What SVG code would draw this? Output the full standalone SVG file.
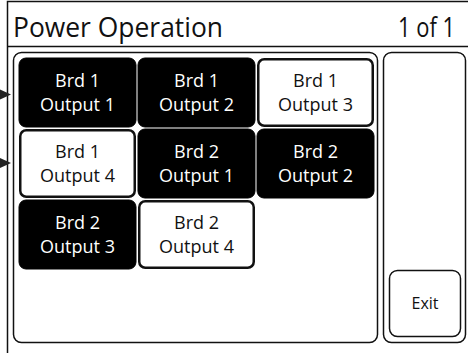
<svg xmlns="http://www.w3.org/2000/svg" width="468" height="353" viewBox="0 0 468 353">
  <style>
    .frame { fill: none; stroke: #111; stroke-width: 1.5; }
    .on rect { fill: #000; stroke: #000; stroke-width: 1; }
    .off rect { fill: #fff; stroke: #111; stroke-width: 2.5; }
    .btn text { font-family: "Open Sans", "Liberation Sans", sans-serif; font-size: 18px; text-anchor: middle; }
    .on text { fill: #fff; }
    .off text { fill: #111; }
    .title { font-family: "Open Sans", "Liberation Sans", sans-serif; font-size: 27px; fill: #111; }
    .pointer { fill: #222; }
  </style>

  <rect width="468" height="353" fill="#fff"/>

  <!-- screen frame and header -->
  <g id="frame">
    <path class="frame" d="M7.5,353 V1.5 H468"/>
    <line class="frame" x1="7.5" y1="46.5" x2="468" y2="46.5"/>
    <text class="title" x="13" y="36.5" textLength="210" lengthAdjust="spacingAndGlyphs">Power Operation</text>
    <text class="title" x="398" y="36.5" textLength="57" lengthAdjust="spacingAndGlyphs">1 of 1</text>
  </g>

  <!-- panels -->
  <g id="grid-panel">
    <rect class="frame" x="13.5" y="52.5" width="364" height="290" rx="8"/>
  </g>
  <g id="side-panel">
    <rect class="frame" x="383.5" y="52.5" width="82" height="290" rx="8"/>
  </g>

  <!-- selection pointers -->
  <g id="pointers">
    <polygon class="pointer" points="0,89.5 11,94.5 0,99.5"/>
    <polygon class="pointer" points="0,158 11,163 0,168"/>
  </g>

  <!-- output buttons -->
  <g id="b1o1" class="btn on">
    <rect x="19" y="58" width="117" height="69" rx="7"/>
    <text x="77.5" y="87">Brd 1</text>
    <text x="77.5" y="111">Output 1</text>
  </g>
  <g id="b1o2" class="btn on">
    <rect x="138" y="58" width="117" height="69" rx="7"/>
    <text x="196.5" y="87">Brd 1</text>
    <text x="196.5" y="111">Output 2</text>
  </g>
  <g id="b1o3" class="btn off">
    <rect x="258.25" y="59.25" width="114.5" height="66.5" rx="6"/>
    <text x="315.5" y="87">Brd 1</text>
    <text x="315.5" y="111">Output 3</text>
  </g>
  <g id="b1o4" class="btn off">
    <rect x="20.25" y="130.25" width="114.5" height="66.5" rx="6"/>
    <text x="77.5" y="158">Brd 1</text>
    <text x="77.5" y="182">Output 4</text>
  </g>
  <g id="b2o1" class="btn on">
    <rect x="138" y="129" width="117" height="69" rx="7"/>
    <text x="196.5" y="158">Brd 2</text>
    <text x="196.5" y="182">Output 1</text>
  </g>
  <g id="b2o2" class="btn on">
    <rect x="257" y="129" width="117" height="69" rx="7"/>
    <text x="315.5" y="158">Brd 2</text>
    <text x="315.5" y="182">Output 2</text>
  </g>
  <g id="b2o3" class="btn on">
    <rect x="19" y="200" width="117" height="69" rx="7"/>
    <text x="77.5" y="229">Brd 2</text>
    <text x="77.5" y="253">Output 3</text>
  </g>
  <g id="b2o4" class="btn off">
    <rect x="139.25" y="201.25" width="114.5" height="66.5" rx="6"/>
    <text x="196.5" y="229">Brd 2</text>
    <text x="196.5" y="253">Output 4</text>
  </g>

  <!-- exit button -->
  <g id="exit" class="btn">
    <rect x="389.5" y="270.5" width="71" height="66" rx="8" fill="#fff" stroke="#111" stroke-width="1.5"/>
    <text x="425" y="309" fill="#111" style="font-size:16px">Exit</text>
  </g>

  <!-- no connectors in this screen -->
  <g id="connectors"/>
</svg>
